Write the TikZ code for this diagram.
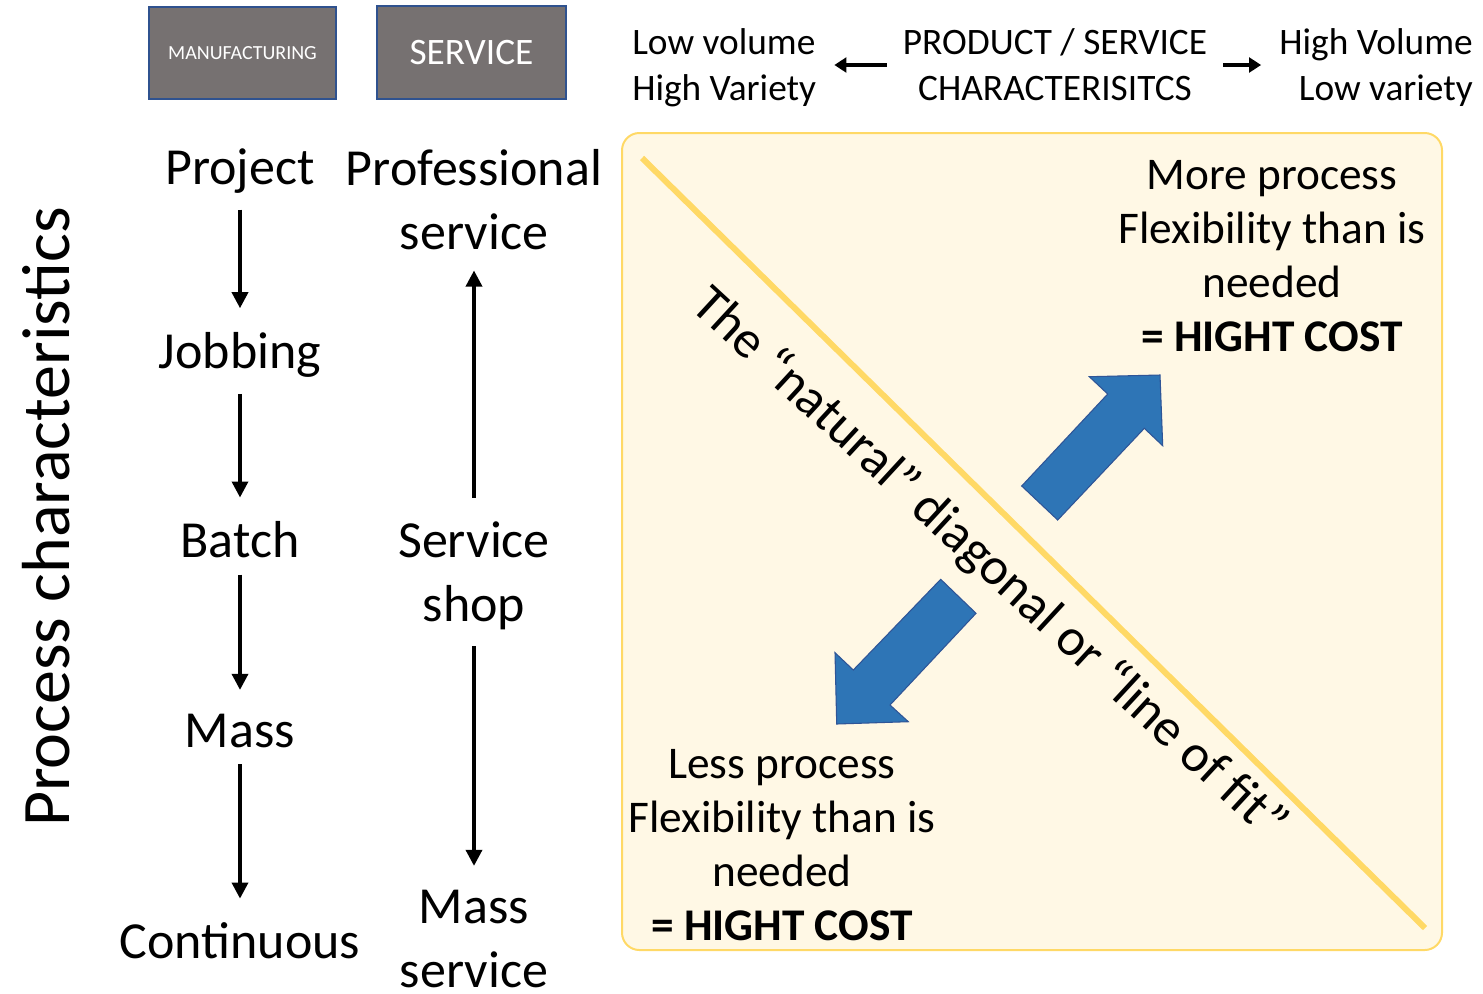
\documentclass[tikz,border=0pt]{standalone}
\usepackage{fontspec}
\setmainfont{Carlito}
\usetikzlibrary{arrows.meta}
\definecolor{boxgray}{HTML}{767171}
\definecolor{boxedge}{HTML}{2F528F}
\definecolor{cream}{HTML}{FFF8E5}
\definecolor{gold}{HTML}{FFD966}
\definecolor{arrowblue}{HTML}{2E75B6}
\definecolor{arrowedge}{HTML}{2F5597}
\begin{document}
\begin{tikzpicture}[x=0.75pt,y=-0.75pt,
    headbox/.style={fill=boxgray,draw=boxedge,line width=1.2pt,text=white,inner sep=0pt},
    kind/.style={font=\fontsize{39}{48}\selectfont,inner sep=0pt,align=center},
    note/.style={font=\fontsize{28}{34.5}\selectfont,inner sep=0pt},
    cost/.style={font=\fontsize{34}{40.5}\selectfont,inner sep=0pt,align=center},
    flow/.style={-{Triangle[length=12pt,width=12pt]},line width=2.6pt,shorten <=12pt,shorten >=18pt},
    sidearrow/.style={-{Triangle[length=9pt,width=11pt]},line width=3.5pt},
    bigarrow/.style={fill=arrowblue,draw=arrowedge,line width=0.8pt}]
  \useasboundingbox (0,0) rectangle (1483,993);

  % header boxes
  \node[headbox,minimum width=140pt,minimum height=69pt,font=\fontsize{15}{18}\selectfont] (mfg) at (242.5,53) {MANUFACTURING};
  \node[headbox,minimum width=142pt,minimum height=70pt,font=\fontsize{28}{34}\selectfont] (srv) at (471.5,52.5) {SERVICE};

  % product / service characteristics
  \node[note,align=left,anchor=west] (lowvol) at (632,68) {Low volume\\High Variety};
  \node[note,align=center] (prodchar) at (1055,65) {PRODUCT / SERVICE\\CHARACTERISITCS};
  \node[note,align=right,anchor=east] (highvol) at (1473,68) {High Volume\\Low variety};
  \draw[sidearrow] ([xshift=-12pt]prodchar.west) -- ([xshift=13.5pt]prodchar.west -| lowvol.east);
  \draw[sidearrow] ([xshift=12pt]prodchar.east) -- ([xshift=-13.5pt]prodchar.east -| highvol.west);

  \node[font=\fontsize{51}{60}\selectfont,inner sep=0pt,rotate=90] (proc) at (46,517) {Process characteristics};

  % manufacturing processes
  \node[kind] (project) at (240,171) {Project};
  \node[kind] (jobbing) at (240,355) {Jobbing};
  \node[kind] (batch) at (240,540) {Batch};
  \node[kind] (mass) at (240,731) {Mass};
  \node[kind] (contin) at (240,941) {Continuous};
  \draw[flow] (project) -- (jobbing);
  \draw[flow] (jobbing) -- (batch);
  \draw[flow] (batch) -- (mass);
  \draw[flow] (mass) -- (contin);

  % service processes
  \node[kind] (profserv) at (474,200) {Professional\\service};
  \node[kind] (servshop) at (474,576) {Service\\shop};
  \node[kind] (massserv) at (474,939) {Mass\\service};
  \draw[flow,shorten <=18pt,shorten >=15pt] (servshop) -- (profserv);
  \draw[flow] (servshop) -- (massserv);

  % matrix area
  \draw[fill=cream,draw=gold,line width=1.5pt,rounded corners=13pt] (622,133) rectangle (1442,950);
  \draw[gold,line width=4.5pt] (642,158) -- (1425,928);
  \draw[bigarrow] (1021.7,486) -- (1057.7,520) -- (1144.3,428.3) -- (1162.7,445.7)
    -- (1160,375) -- (1089.3,376.7) -- (1107.7,394) -- cycle;
  \draw[bigarrow] (940.7,579.3) -- (976,613.3) -- (890,705) -- (908.3,721.7)
    -- (836.7,724) -- (835,652.7) -- (853.3,670) -- cycle;
  \node[font=\fontsize{39.5}{46}\selectfont,inner sep=0pt,rotate=-42.7] (fitlabel) at (989,565) {The “natural” diagonal or “line of fit”};
  \node[cost] (morecost) at (1272,256) {More process\\Flexibility than is\\needed\\\textbf{= HIGHT COST}};
  \node[cost] (lesscost) at (782,845) {Less process\\Flexibility than is\\needed\\\textbf{= HIGHT COST}};
\end{tikzpicture}
\end{document}
